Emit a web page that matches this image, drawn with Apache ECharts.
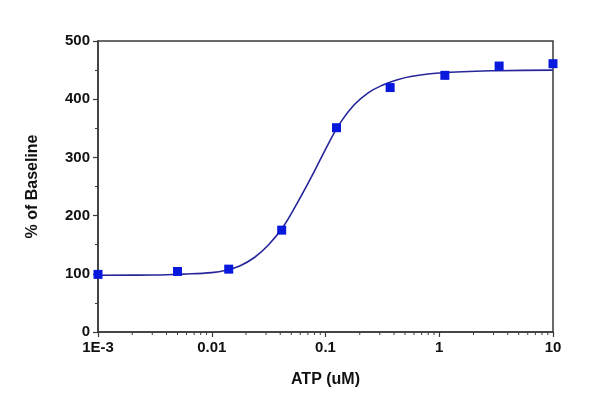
<!DOCTYPE html>
<html>
<head>
<meta charset="utf-8">
<script src="https://cdn.jsdelivr.net/npm/echarts@6/dist/echarts.min.js"></script>
<style>html,body{margin:0;padding:0;background:#fff;}#c{width:600px;height:412px;}</style>
</head>
<body>
<div id="c"></div>
<script>
// Measured points
const concentrations = [0.001, 0.005, 0.0141, 0.0412, 0.125, 0.37, 1.12, 3.36, 10];
const responses = [99, 104, 108, 175, 351, 420, 441, 457, 461];
// Fitted curve
const fitX = [0.001, 0.00316, 0.00562, 0.01, 0.01334, 0.01778, 0.02371, 0.03162, 0.04217, 0.05623, 0.07499, 0.1, 0.1334, 0.1778, 0.2371, 0.3162, 0.4217, 0.5623, 1, 3.162, 10];
const fitY = [97.5, 98, 99.5, 102, 106, 114, 128, 150, 180, 221, 266, 314, 358, 390, 411, 424, 433, 439, 445, 449, 450];
// Tick labels
const xTickValues = [0.001, 0.01, 0.1, 1, 10];
const xTickLabels = ['1E-3', '0.01', '0.1', '1', '10'];
const yTickLabels = ['0', '100', '200', '300', '400', '500'];

const FONT = 'Liberation Sans, Arial, sans-serif';
const AX = '#3a3a3a';

const chart = echarts.init(document.getElementById('c'), null, {renderer: 'canvas'});
const option = {
  backgroundColor: '#ffffff',
  animation: false,
  grid: {left: 98, right: 47, top: 41, bottom: 80, show: true, borderColor: AX, borderWidth: 1.5, backgroundColor: 'transparent'},
  xAxis: {
    type: 'log', logBase: 10, min: 0.001, max: 10,
    name: 'ATP (uM)', nameLocation: 'middle', nameGap: 40,
    nameTextStyle: {fontFamily: FONT, fontWeight: 'bold', fontSize: 16, color: '#111'},
    axisLine: {show: true, lineStyle: {color: AX, width: 1.5}},
    axisTick: {show: true, inside: false, length: 5, lineStyle: {color: AX, width: 1.2}},
    minorTick: {show: false},
    splitLine: {show: false},
    axisLabel: {
      fontFamily: FONT, fontWeight: 'bold', fontSize: 15, color: '#111', margin: 8,
      formatter: function (v) {
        for (let i = 0; i < xTickValues.length; i++) {
          if (Math.abs(Math.log10(v) - Math.log10(xTickValues[i])) < 1e-6) return xTickLabels[i];
        }
        return '';
      }
    }
  },
  yAxis: {
    type: 'value', min: 0, max: 500, interval: 100,
    name: '% of Baseline', nameLocation: 'middle', nameGap: 57, nameRotate: 90,
    nameTextStyle: {fontFamily: FONT, fontWeight: 'bold', fontSize: 16, color: '#111'},
    axisLine: {show: true, lineStyle: {color: AX, width: 1.5}},
    axisTick: {show: true, inside: false, length: 5, lineStyle: {color: AX, width: 1.2}},
    minorTick: {show: true, splitNumber: 2, length: 3, lineStyle: {color: AX, width: 1}},
    splitLine: {show: false},
    axisLabel: {
      fontFamily: FONT, fontWeight: 'bold', fontSize: 15, color: '#111', margin: 8,
      formatter: function (v) { return yTickLabels[Math.round(v / 100)]; }
    }
  },
  series: [
    {
      type: 'line', name: 'fit', smooth: 0.4, showSymbol: false, symbol: 'none',
      data: fitX.map((x, i) => [x, fitY[i]]),
      lineStyle: {color: '#26269a', width: 1.6},
      z: 2
    },
    {
      type: 'scatter', name: 'data', symbol: 'rect', symbolSize: 9,
      data: concentrations.map((x, i) => [x, responses[i]]),
      itemStyle: {color: '#0818dc', opacity: 1},
      z: 3
    }
  ]
};
chart.setOption(option);

// Minor log ticks (2..9 in each decade), placed through the axis scale
const minorVals = [];
for (let d = -3; d < 1; d++) {
  for (let m = 2; m <= 9; m++) minorVals.push(m * Math.pow(10, d));
}
const y0 = chart.convertToPixel({yAxisIndex: 0}, 0);
const graphics = minorVals.map(v => {
  const px = chart.convertToPixel({xAxisIndex: 0}, v);
  return {type: 'line', shape: {x1: px, y1: y0, x2: px, y2: y0 + 3}, style: {stroke: AX, lineWidth: 1}, silent: true};
});
chart.setOption({graphic: graphics});
</script>
</body>
</html>
